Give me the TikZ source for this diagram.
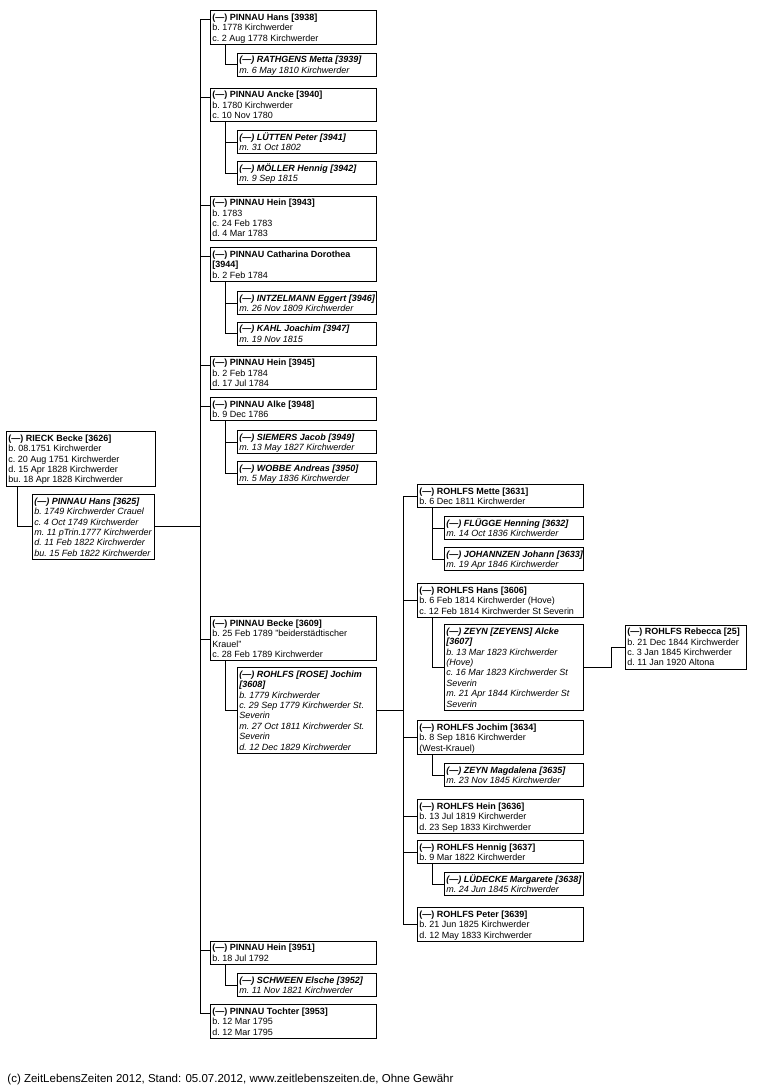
\documentclass[tikz,border=0pt]{standalone}
\usepackage{fontspec}
\setmainfont{Liberation Sans}
\newcommand\gboxw{100pt}
\newcommand\gt[1]{\makebox[\gboxw][l]{\begin{tabular}[t]{@{}l@{}}\rule{0pt}{9.8pt}#1\end{tabular}}}
\begin{document}
\begin{tikzpicture}[x=1pt,y=-1pt,line width=0.9pt,
  gbox/.style={draw, anchor=north west, inner xsep=2pt, inner ysep=0pt,
    font=\fontsize{9}{10.4}\selectfont,
    execute at begin node={\frenchspacing\renewcommand\gboxw{#1pt}}},
  kid/.style={gbox=162},
  spo/.style={gbox=135, font=\fontsize{9}{10.4}\selectfont\itshape},
]
\useasboundingbox (0,0) rectangle (757,1090);
\coordinate (trunkA) at (200,0);
\coordinate (trunkB) at (403,0);
\coordinate (bendR) at (611,0);

% ---- left couple
\node[gbox=145] (rieck) at (6,431) {\gt{\textbf{(—) RIECK Becke [3626]}\\b. 08.1751 Kirchwerder\\c. 20 Aug 1751 Kirchwerder\\d. 15 Apr 1828 Kirchwerder\\bu. 18 Apr 1828 Kirchwerder}};
\node[gbox=118, font=\fontsize{9}{10.4}\selectfont\itshape] (hans3625) at (32,494) {\gt{\textbf{(—) PINNAU Hans [3625]}\\b. 1749 Kirchwerder Crauel\\c. 4 Oct 1749 Kirchwerder\\m. 11 pTrin.1777 Kirchwerder\\d. 11 Feb 1822 Kirchwerder\\bu. 15 Feb 1822 Kirchwerder}};

% ---- PINNAU children
\node[kid] (hans3938) at (210,10) {\gt{\textbf{(—) PINNAU Hans [3938]}\\b. 1778 Kirchwerder\\c. 2 Aug 1778 Kirchwerder}};
\node[spo] (rathgens) at (237,52.5) {\gt{\textbf{(—) RATHGENS Metta [3939]}\\m. 6 May 1810 Kirchwerder}};
\node[kid] (ancke) at (210,87.5) {\gt{\textbf{(—) PINNAU Ancke [3940]}\\b. 1780 Kirchwerder\\c. 10 Nov 1780}};
\node[spo] (luetten) at (237,130) {\gt{\textbf{(—) LÜTTEN Peter [3941]}\\m. 31 Oct 1802}};
\node[spo] (moeller) at (237,161) {\gt{\textbf{(—) MÖLLER Hennig [3942]}\\m. 9 Sep 1815}};
\node[kid] (hein3943) at (210,195.5) {\gt{\textbf{(—) PINNAU Hein [3943]}\\b. 1783\\c. 24 Feb 1783\\d. 4 Mar 1783}};
\node[kid] (catharina) at (210,247) {\gt{\textbf{(—) PINNAU Catharina Dorothea}\\\textbf{[3944]}\\b. 2 Feb 1784}};
\node[spo] (intzelmann) at (237,291) {\gt{\textbf{(—) INTZELMANN Eggert [3946]}\\m. 26 Nov 1809 Kirchwerder}};
\node[spo] (kahl) at (237,321.5) {\gt{\textbf{(—) KAHL Joachim [3947]}\\m. 19 Nov 1815}};
\node[kid] (hein3945) at (210,355.5) {\gt{\textbf{(—) PINNAU Hein [3945]}\\b. 2 Feb 1784\\d. 17 Jul 1784}};
\node[kid] (alke) at (210,397) {\gt{\textbf{(—) PINNAU Alke [3948]}\\b. 9 Dec 1786}};
\node[spo] (siemers) at (237,430) {\gt{\textbf{(—) SIEMERS Jacob [3949]}\\m. 13 May 1827 Kirchwerder}};
\node[spo] (wobbe) at (237,461) {\gt{\textbf{(—) WOBBE Andreas [3950]}\\m. 5 May 1836 Kirchwerder}};
\node[kid] (becke) at (210,616) {\gt{\textbf{(—) PINNAU Becke [3609]}\\b. 25 Feb 1789 "beiderstädtischer\\Krauel"\\c. 28 Feb 1789 Kirchwerder}};
\node[spo] (jochim3608) at (237,667) {\gt{\textbf{(—) ROHLFS [ROSE] Jochim}\\\textbf{[3608]}\\b. 1779 Kirchwerder\\c. 29 Sep 1779 Kirchwerder St.\\Severin\\m. 27 Oct 1811 Kirchwerder St.\\Severin\\d. 12 Dec 1829 Kirchwerder}};
\node[kid] (hein3951) at (210,940.5) {\gt{\textbf{(—) PINNAU Hein [3951]}\\b. 18 Jul 1792}};
\node[spo] (schween) at (237,973) {\gt{\textbf{(—) SCHWEEN Elsche [3952]}\\m. 11 Nov 1821 Kirchwerder}};
\node[kid] (tochter) at (210,1004) {\gt{\textbf{(—) PINNAU Tochter [3953]}\\b. 12 Mar 1795\\d. 12 Mar 1795}};

% ---- ROHLFS children
\node[kid] (mette) at (417,484) {\gt{\textbf{(—) ROHLFS Mette [3631]}\\b. 6 Dec 1811 Kirchwerder}};
\node[spo] (fluegge) at (444,516) {\gt{\textbf{(—) FLÜGGE Henning [3632]}\\m. 14 Oct 1836 Kirchwerder}};
\node[spo] (johannzen) at (444,547) {\gt{\textbf{(—) JOHANNZEN Johann [3633]}\\m. 19 Apr 1846 Kirchwerder}};
\node[kid] (hans3606) at (417,583) {\gt{\textbf{(—) ROHLFS Hans [3606]}\\b. 6 Feb 1814 Kirchwerder (Hove)\\c. 12 Feb 1814 Kirchwerder St Severin}};
\node[spo] (zeyn) at (444,624) {\gt{\textbf{(—) ZEYN [ZEYENS] Alcke}\\\textbf{[3607]}\\b. 13 Mar 1823 Kirchwerder\\(Hove)\\c. 16 Mar 1823 Kirchwerder St\\Severin\\m. 21 Apr 1844 Kirchwerder St\\Severin}};
\node[gbox=117] (rebecca) at (625,624.5) {\gt{\textbf{(—) ROHLFS Rebecca [25]}\\b. 21 Dec 1844 Kirchwerder\\c. 3 Jan 1845 Kirchwerder\\d. 11 Jan 1920 Altona}};
\node[kid] (jochim3634) at (417,720) {\gt{\textbf{(—) ROHLFS Jochim [3634]}\\b. 8 Sep 1816 Kirchwerder\\(West-Krauel)}};
\node[spo] (magdalena) at (444,763) {\gt{\textbf{(—) ZEYN Magdalena [3635]}\\m. 23 Nov 1845 Kirchwerder}};
\node[kid] (hein3636) at (417,799) {\gt{\textbf{(—) ROHLFS Hein [3636]}\\b. 13 Jul 1819 Kirchwerder\\d. 23 Sep 1833 Kirchwerder}};
\node[kid] (hennig) at (417,840) {\gt{\textbf{(—) ROHLFS Hennig [3637]}\\b. 9 Mar 1822 Kirchwerder}};
\node[spo] (luedecke) at (444,872) {\gt{\textbf{(—) LÜDECKE Margarete [3638]}\\m. 24 Jun 1845 Kirchwerder}};
\node[kid] (peter) at (417,907) {\gt{\textbf{(—) ROHLFS Peter [3639]}\\b. 21 Jun 1825 Kirchwerder\\d. 12 May 1833 Kirchwerder}};

% ---- connection points of PINNAU children
\foreach \n in {hans3938,ancke,hein3943,catharina,hein3945,alke,hein3951,tochter}
  \coordinate (\n c) at ([yshift=-9.5pt]\n.north west);
\coordinate (beckec) at ([yshift=-23.5pt]becke.north west);

% ---- connectors
\draw ([xshift=11pt]rieck.south west) |- (hans3625.west);
\draw (hans3625.east) -- (hans3625.east -| trunkA);
\draw (trunkA |- hans3938c) -- (trunkA |- tochterc);
\foreach \n in {hans3938,ancke,hein3943,catharina,hein3945,alke,becke,hein3951,tochter}
  \draw (trunkA |- \n c) -- (\n c);

\draw ([xshift=15pt]hans3938.south west) |- (rathgens.west);
\draw ([xshift=15pt]ancke.south west) |- (luetten.west);
\draw ([xshift=15pt]ancke.south west) |- (moeller.west);
\draw ([xshift=15pt]catharina.south west) |- (intzelmann.west);
\draw ([xshift=15pt]catharina.south west) |- (kahl.west);
\draw ([xshift=15pt]alke.south west) |- (siemers.west);
\draw ([xshift=15pt]alke.south west) |- (wobbe.west);
\draw ([xshift=15pt]becke.south west) |- (jochim3608.west);
\draw ([xshift=15pt]hein3951.south west) |- (schween.west);

\draw (jochim3608.east) -- (jochim3608.east -| trunkB);
\draw (trunkB |- mette.west) -- (trunkB |- peter.west);
\foreach \n in {mette,hans3606,jochim3634,hein3636,hennig,peter}
  \draw (trunkB |- \n.west) -- (\n.west);

\draw ([xshift=15pt]mette.south west) |- (fluegge.west);
\draw ([xshift=15pt]mette.south west) |- (johannzen.west);
\draw ([xshift=15pt]hans3606.south west) |- (zeyn.west);
\draw ([xshift=15pt]jochim3634.south west) |- (magdalena.west);
\draw ([xshift=15pt]hennig.south west) |- (luedecke.west);

\draw (zeyn.east) -- (zeyn.east -| bendR) |- (rebecca.west);

% ---- footer
\node[anchor=base west, inner sep=0pt, font=\fontsize{11.5}{13}\selectfont] (footer) at (7,1082)
  {(c) ZeitLebensZeiten 2012, Stand: 05.07.2012, www.zeitlebenszeiten.de, Ohne Gewähr};
\end{tikzpicture}
\end{document}
